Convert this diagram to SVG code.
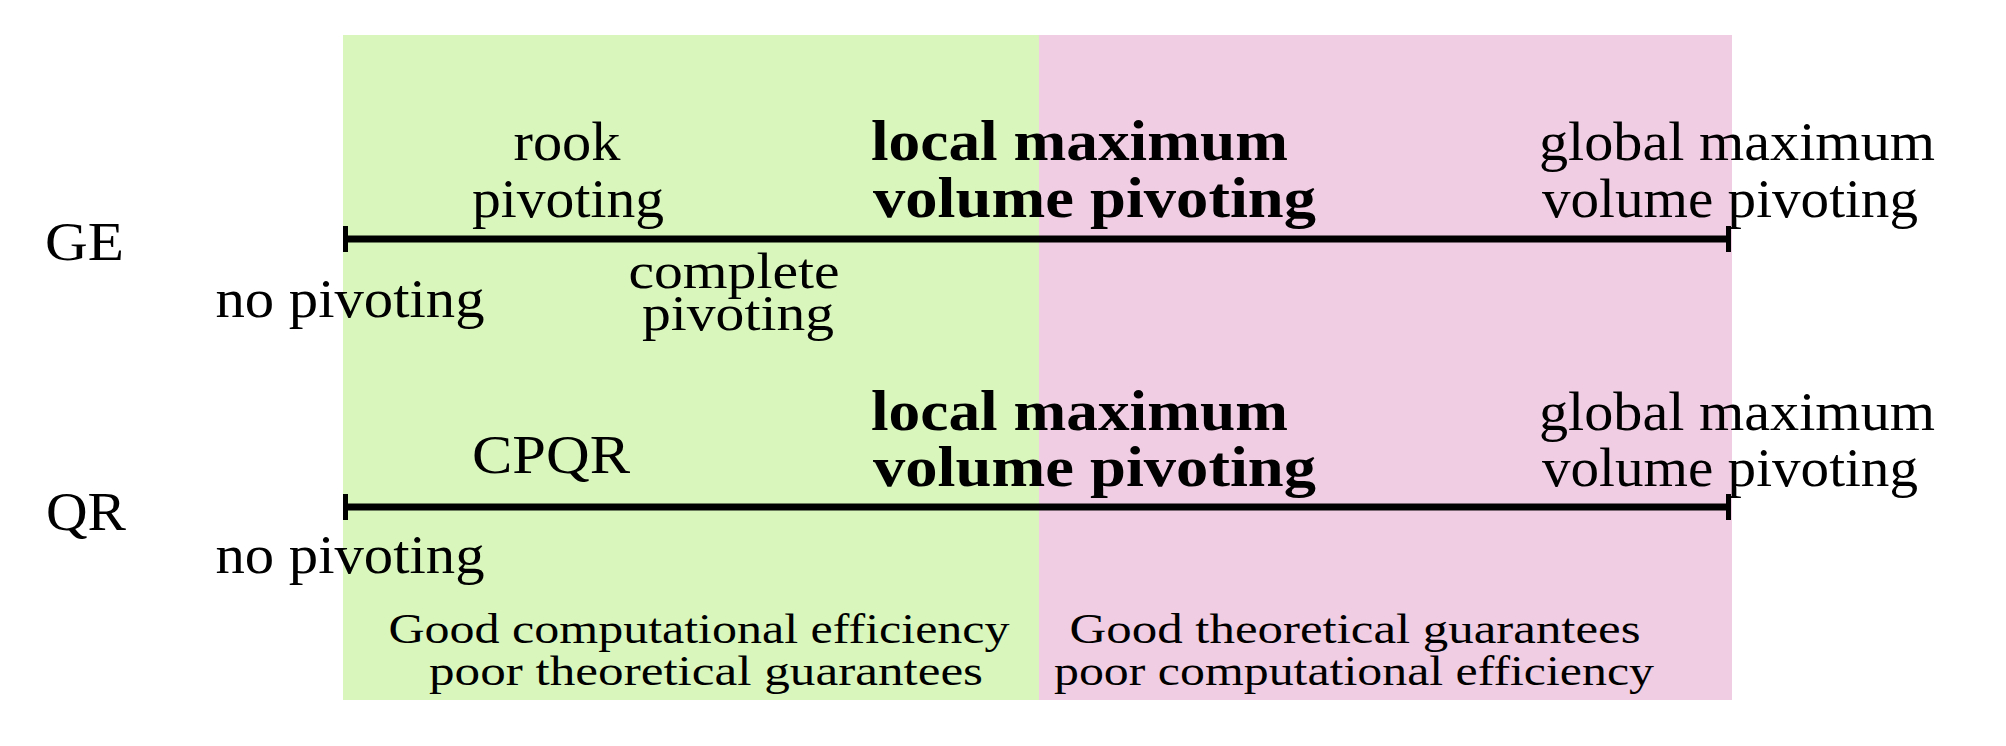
<svg xmlns="http://www.w3.org/2000/svg" width="2006" height="746" viewBox="0 0 2006 746">
<style>
text{font-family:"Liberation Serif","Times New Roman",serif;fill:#000}
.lb{font-size:55px}
.tight{font-size:51px}
.bd{font-size:57px;font-weight:bold}
.sm{font-size:43px}
.mid{text-anchor:middle}
.axis{stroke:#000;stroke-width:7;fill:none}
.tick{stroke:#000;stroke-width:5;fill:none}
</style>
<rect width="2006" height="746" fill="#fff"/>
<g id="regions">
<rect id="green-region" x="343" y="35" width="696" height="665" fill="#d9f7bd"/>
<rect id="pink-region" x="1039" y="35" width="693" height="665" fill="#f0cde2"/>
</g>
<g id="connectors">
<line class="axis" x1="345" y1="239" x2="1729" y2="239"/>
<line class="tick" x1="345.5" y1="226" x2="345.5" y2="252"/>
<line class="tick" x1="1728.5" y1="226" x2="1728.5" y2="252"/>
<line class="axis" x1="345" y1="507" x2="1729" y2="507"/>
<line class="tick" x1="345.5" y1="494" x2="345.5" y2="520"/>
<line class="tick" x1="1728.5" y1="494" x2="1728.5" y2="520"/>
</g>
<g id="ge-label"><text class="lb" x="45" y="260" textLength="79" lengthAdjust="spacingAndGlyphs">GE</text></g>
<g id="qr-label"><text class="lb" x="46" y="530" textLength="80" lengthAdjust="spacingAndGlyphs">QR</text></g>
<g id="ge-no-pivoting"><text class="lb mid" x="350" y="317" textLength="269" lengthAdjust="spacingAndGlyphs">no pivoting</text></g>
<g id="ge-rook"><text class="lb mid" x="567" y="160" textLength="107" lengthAdjust="spacingAndGlyphs">rook</text><text class="lb mid" x="568" y="217" textLength="192" lengthAdjust="spacingAndGlyphs">pivoting</text></g>
<g id="ge-complete"><text class="tight mid" x="734" y="288" textLength="211" lengthAdjust="spacingAndGlyphs">complete</text><text class="tight mid" x="738" y="330" textLength="192" lengthAdjust="spacingAndGlyphs">pivoting</text></g>
<g id="ge-local"><text class="bd" x="871" y="160" textLength="417" lengthAdjust="spacingAndGlyphs">local maximum</text><text class="bd" x="873" y="217" textLength="443" lengthAdjust="spacingAndGlyphs">volume pivoting</text></g>
<g id="ge-global"><text class="lb" x="1539" y="160" textLength="396" lengthAdjust="spacingAndGlyphs">global maximum</text><text class="lb" x="1542" y="217" textLength="376" lengthAdjust="spacingAndGlyphs">volume pivoting</text></g>
<g id="qr-cpqr"><text class="lb mid" x="551" y="473" textLength="158" lengthAdjust="spacingAndGlyphs">CPQR</text></g>
<g id="qr-no-pivoting"><text class="lb mid" x="350" y="573" textLength="269" lengthAdjust="spacingAndGlyphs">no pivoting</text></g>
<g id="qr-local"><text class="bd" x="871" y="430" textLength="417" lengthAdjust="spacingAndGlyphs">local maximum</text><text class="bd" x="873" y="486" textLength="443" lengthAdjust="spacingAndGlyphs">volume pivoting</text></g>
<g id="qr-global"><text class="lb" x="1539" y="430" textLength="396" lengthAdjust="spacingAndGlyphs">global maximum</text><text class="lb" x="1542" y="486" textLength="376" lengthAdjust="spacingAndGlyphs">volume pivoting</text></g>
<g id="green-caption"><text class="sm mid" x="699" y="643" textLength="621" lengthAdjust="spacingAndGlyphs">Good computational efficiency</text><text class="sm mid" x="706" y="685" textLength="554" lengthAdjust="spacingAndGlyphs">poor theoretical guarantees</text></g>
<g id="pink-caption"><text class="sm mid" x="1355" y="643" textLength="571" lengthAdjust="spacingAndGlyphs">Good theoretical guarantees</text><text class="sm mid" x="1354" y="685" textLength="600" lengthAdjust="spacingAndGlyphs">poor computational efficiency</text></g>
</svg>
